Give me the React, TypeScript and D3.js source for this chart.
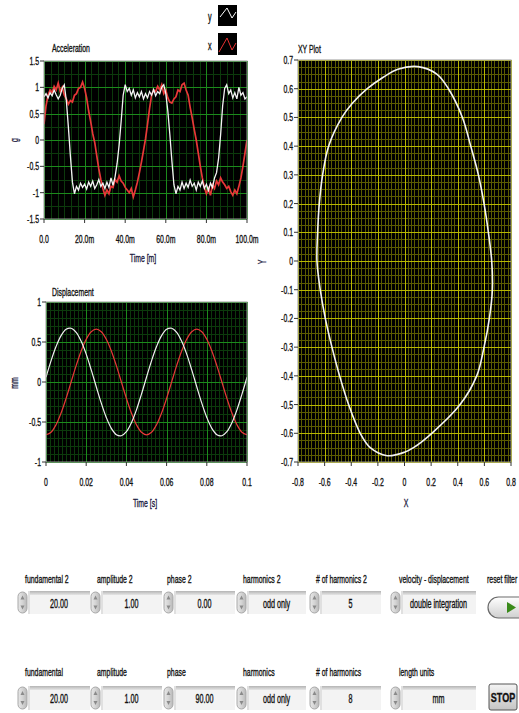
import React from "react";
import * as d3 from "d3";

// ---------- DATA ----------
// Acceleration (g), sampled every 1 ms from 0 to 100 ms
const ACC_Y = [
  0.82, 0.88, 0.8, 0.9, 0.84, 0.95, 0.86, 0.78, 0.85, 0.98,
  1.05, 0.75, 0.25, -0.3, -0.8, -1.02, -0.88, -0.95, -0.82, -0.9,
  -0.84, -0.93, -0.8, -0.88, -0.78, -0.92, -0.85, -0.75, -0.88, -0.82,
  -0.92, -0.8, -0.9, -0.72, -0.86, -0.7, -0.45, -0.1, 0.35, 0.85,
  1.05, 0.92, 0.98, 0.85, 0.95, 0.8, 0.9, 0.82, 0.92, 0.78,
  0.88, 0.8, 0.92, 0.85, 0.96, 0.84, 0.92, 0.88, 1.0, 1.05,
  0.88, 0.55, 0.1, -0.4, -0.85, -1.02, -0.88, -0.95, -0.8, -0.92,
  -0.82, -0.9, -0.76, -0.88, -0.82, -0.95, -0.8, -0.88, -0.78, -0.92,
  -0.84, -0.96, -0.82, -0.9, -0.72, -0.62, -0.35, 0.1, 0.65, 0.98,
  1.05, 0.88, 0.95, 0.8, 0.9, 0.78, 1.0, 0.85, 0.9, 0.78,
  0.82,
];
const ACC_X = [
  0.3, 0.65, 0.85, 0.95, 0.9, 1.02, 0.95, 1.08, 0.92, 1.0,
  0.85, 0.78, 0.68, 0.75, 0.72, 0.85, 0.88, 0.98, 1.0, 1.1,
  0.98, 0.8, 0.55, 0.35, 0.12, -0.05, -0.3, -0.55, -0.75, -0.92,
  -1.05, -0.95, -1.02, -0.88, -0.9, -0.75, -0.8, -0.68, -0.78, -0.82,
  -0.9, -0.95, -1.0, -0.92, -1.08, -0.95, -0.8, -0.62, -0.42, -0.2,
  0.02, 0.3, 0.6, 0.85, 0.95, 0.92, 1.02, 0.95, 1.05, 0.88,
  0.95, 0.8, 0.72, 0.7, 0.78, 0.82, 0.95, 0.92, 1.05, 1.08,
  0.95, 0.85, 0.62, 0.42, 0.2, 0.0, -0.25, -0.5, -0.72, -0.9,
  -1.02, -0.92, -1.05, -0.85, -0.92, -0.78, -0.85, -0.72, -0.8, -0.85,
  -0.92, -0.88, -0.98, -1.05, -0.95, -1.02, -0.88, -0.72, -0.5, -0.25,
  0.0,
];
const ACC_STEP_MS = 1;

// Displacement (mm), sampled every 2.5 ms from 0 to 0.1 s
const DISP_Y = [
  0.059, 0.264, 0.443, 0.579, 0.658, 0.672, 0.621, 0.509, 0.348, 0.152,
  -0.059, -0.264, -0.443, -0.579, -0.658, -0.672, -0.621, -0.509, -0.348, -0.152,
  0.059, 0.264, 0.443, 0.579, 0.658, 0.672, 0.621, 0.509, 0.348, 0.152,
  -0.059, -0.264, -0.443, -0.579, -0.658, -0.672, -0.621, -0.509, -0.348, -0.152,
  0.059,
];
const DISP_X = [
  -0.66, -0.628, -0.534, -0.388, -0.204, 0.0, 0.204, 0.388, 0.534, 0.628,
  0.66, 0.628, 0.534, 0.388, 0.204, 0.0, -0.204, -0.388, -0.534, -0.628,
  -0.66, -0.628, -0.534, -0.388, -0.204, 0.0, 0.204, 0.388, 0.534, 0.628,
  0.66, 0.628, 0.534, 0.388, 0.204, 0.0, -0.204, -0.388, -0.534, -0.628,
  -0.66,
];
const DISP_STEP_S = 0.0025;

// XY plot loop (clockwise from the top)
const XY_X = [
  0.1, 0.2425, 0.33, 0.435, 0.4975, 0.555, 0.5975, 0.63, 0.655, 0.66,
  0.6375, 0.5975, 0.5425, 0.4175, 0.205, 0.0675, 0.0, -0.13, -0.2575, -0.3325,
  -0.42, -0.4875, -0.545, -0.595, -0.633, -0.6575, -0.6525, -0.64, -0.615, -0.57,
  -0.47, -0.39, -0.28, -0.16, -0.05,
];
const XY_Y = [
  0.677, 0.651, 0.6, 0.5, 0.4, 0.3, 0.2, 0.1, 0.0, -0.1,
  -0.2, -0.3, -0.4, -0.5, -0.6, -0.65, -0.666, -0.678, -0.65, -0.6,
  -0.5, -0.4, -0.3, -0.2, -0.1, 0.0, 0.1, 0.2, 0.3, 0.4,
  0.5, 0.55, 0.6, 0.64, 0.668,
];

// Tick values and labels
const ACC_T_TICKS = [0, 20, 40, 60, 80, 100];
const ACC_T_LABELS = ["0.0", "20.0m", "40.0m", "60.0m", "80.0m", "100.0m"];
const ACC_G_TICKS = [1.5, 1, 0.5, 0, -0.5, -1, -1.5];
const ACC_G_LABELS = ["1.5", "1", "0.5", "0", "-0.5", "-1", "-1.5"];
const DISP_T_TICKS = [0, 0.02, 0.04, 0.06, 0.08, 0.1];
const DISP_T_LABELS = ["0", "0.02", "0.04", "0.06", "0.08", "0.1"];
const DISP_MM_TICKS = [1, 0.5, 0, -0.5, -1];
const DISP_MM_LABELS = ["1", "0.5", "0", "-0.5", "-1"];
const XY_X_TICKS = [-0.8, -0.6, -0.4, -0.2, 0, 0.2, 0.4, 0.6, 0.8];
const XY_X_LABELS = ["-0.8", "-0.6", "-0.4", "-0.2", "0", "0.2", "0.4", "0.6", "0.8"];
const XY_Y_TICKS = [0.7, 0.6, 0.5, 0.4, 0.3, 0.2, 0.1, 0, -0.1, -0.2, -0.3, -0.4, -0.5, -0.6, -0.7];
const XY_Y_LABELS = ["0.7", "0.6", "0.5", "0.4", "0.3", "0.2", "0.1", "0", "-0.1", "-0.2", "-0.3", "-0.4", "-0.5", "-0.6", "-0.7"];

// Controls
const ROW1_LABELS = ["fundamental 2", "amplitude 2", "phase 2", "harmonics 2", "# of harmonics 2", "velocity - displacement"];
const ROW1_VALUES = ["20.00", "1.00", "0.00", "odd only", "5", "double integration"];
const ROW2_LABELS = ["fundamental", "amplitude", "phase", "harmonics", "# of harmonics", "length units"];
const ROW2_VALUES = ["20.00", "1.00", "90.00", "odd only", "8", "mm"];

// ---------- LAYOUT ----------
const FONT = "'Liberation Sans', Arial, sans-serif";
const SX = 0.6;

const CTRL_COLS = [
  { a: 18, e: 90, lx: 25 },
  { a: 91, e: 162, lx: 97 },
  { a: 164, e: 235, lx: 167 },
  { a: 237, e: 306, lx: 243 },
  { a: 310, e: 381, lx: 316 },
  { a: 391, e: 476, lx: 399 },
];

function Txt(props: any) {
  const { x, y, children, anchor = "start", size = 11.5, rot = 0, sx = SX, fill = "#111", weight } = props;
  return (
    <text
      transform={`translate(${x},${y}) rotate(${rot}) scale(${sx},1)`}
      textAnchor={anchor}
      fontSize={size}
      fontFamily={FONT}
      fill={fill}
      stroke={fill}
      strokeWidth={0.35}
      fontWeight={weight}
    >
      {children}
    </text>
  );
}

function Grid(props: any) {
  const { x, y, xMajor, xSub, yMajor, ySub, major, minor } = props;
  const [x0, x1] = x.domain();
  const [y0, y1] = y.domain();
  const minorLines: any[] = [];
  const majorLines: any[] = [];
  const xs = xMajor / xSub;
  const nX = Math.round((x1 - x0) / xs);
  for (let i = 0; i <= nX; i++) {
    const v = x0 + i * xs;
    const px = Math.round(x(v)) + 0.5;
    const isMaj = i % xSub === 0;
    const el = <line key={"x" + i} x1={px} x2={px} y1={y.range()[0]} y2={y.range()[1]} />;
    (isMaj ? majorLines : minorLines).push(el);
  }
  const ys = yMajor / ySub;
  const nY = Math.round((y1 - y0) / ys);
  for (let i = 0; i <= nY; i++) {
    const v = y0 + i * ys;
    const py = Math.round(y(v)) + 0.5;
    const isMaj = i % ySub === 0;
    const el = <line key={"y" + i} x1={x.range()[0]} x2={x.range()[1]} y1={py} y2={py} />;
    (isMaj ? majorLines : minorLines).push(el);
  }
  return (
    <g>
      <g stroke={minor} strokeWidth={1}>{minorLines}</g>
      <g stroke={major} strokeWidth={1}>{majorLines}</g>
    </g>
  );
}

function AxisLeft(props: any) {
  const { y, x0, ticks, labels } = props;
  return (
    <g>
      {ticks.map((t: number, i: number) => (
        <g key={i}>
          <line x1={x0 - 4} x2={x0} y1={y(t)} y2={y(t)} stroke="#333" />
          <Txt x={x0 - 5} y={y(t) + 4} anchor="end">{labels[i]}</Txt>
        </g>
      ))}
    </g>
  );
}

function AxisBottom(props: any) {
  const { x, y0, ticks, labels, ly } = props;
  return (
    <g>
      {ticks.map((t: number, i: number) => (
        <g key={i}>
          <line x1={x(t)} x2={x(t)} y1={y0} y2={y0 + 4} stroke="#333" />
          <Txt x={x(t)} y={ly} anchor="middle">{labels[i]}</Txt>
        </g>
      ))}
    </g>
  );
}

function Numeric(props: any) {
  const { a, e, y0, y1, value } = props;
  const h = y1 - y0;
  const cx = a + 4.5;
  const cy = (y0 + y1) / 2;
  return (
    <g>
      <rect x={a} y={y0 + 1} width={9} height={h - 2} rx={4.5} fill="url(#btnGrad)" stroke="#a8a8a8" />
      <path d={`M${cx - 2},${cy - 3} L${cx},${cy - 7} L${cx + 2},${cy - 3} Z`} fill="#8a8a8a" />
      <path d={`M${cx - 2},${cy + 3} L${cx},${cy + 7} L${cx + 2},${cy + 3} Z`} fill="#8a8a8a" />
      <rect x={a + 10} y={y0} width={e - a - 10} height={h} fill="#f3f3f3" />
      <rect x={a + 10} y={y0} width={e - a - 10} height={4} fill="url(#bevel)" />
      <rect x={a + 10} y={y0} width={2} height={h} fill="#e0e0e0" />
      <Txt x={(a + 10 + e) / 2} y={cy + 5} anchor="middle" size={12}>{value}</Txt>
    </g>
  );
}

export default function App() {
  // Acceleration graph
  const xA = d3.scaleLinear().domain([0, 100]).range([44, 247]);
  const yA = d3.scaleLinear().domain([-1.5, 1.5]).range([219, 61]);
  // Displacement graph
  const xD = d3.scaleLinear().domain([0, 0.1]).range([46, 247]);
  const yD = d3.scaleLinear().domain([-1, 1]).range([462, 302]);
  // XY graph
  const xX = d3.scaleLinear().domain([-0.8, 0.8]).range([298, 511]);
  const yX = d3.scaleLinear().domain([-0.7, 0.7]).range([462, 60]);

  const accLine = d3
    .line<number>()
    .x((_, i) => xA(i * ACC_STEP_MS))
    .y((d) => yA(d));
  const dispLine = d3
    .line<number>()
    .x((_, i) => xD(i * DISP_STEP_S))
    .y((d) => yD(d))
    .curve(d3.curveCatmullRom);
  const xyLine = d3
    .line<number>()
    .x((d) => xX(d))
    .y((_, i) => yX(XY_Y[i]))
    .curve(d3.curveCatmullRomClosed.alpha(0.5));

  return (
    <svg width={519} height={713} style={{ position: "absolute", left: 0, top: 0, background: "#fff" }}>
      <defs>
        <linearGradient id="btnGrad" x1="0" x2="1" y1="0" y2="0">
          <stop offset="0" stopColor="#e8e8e8" />
          <stop offset="0.5" stopColor="#d4d4d4" />
          <stop offset="1" stopColor="#b8b8b8" />
        </linearGradient>
        <linearGradient id="bevel" x1="0" x2="0" y1="0" y2="1">
          <stop offset="0" stopColor="#b4b4b4" />
          <stop offset="1" stopColor="#e6e6e6" />
        </linearGradient>
        <linearGradient id="oval" x1="0" x2="0" y1="0" y2="1">
          <stop offset="0" stopColor="#ffffff" />
          <stop offset="1" stopColor="#cfcfcf" />
        </linearGradient>
        <linearGradient id="stop" x1="0" x2="0" y1="0" y2="1">
          <stop offset="0" stopColor="#f4f4f4" />
          <stop offset="1" stopColor="#c4c4c4" />
        </linearGradient>
        <clipPath id="clipA"><rect x={44} y={61} width={203} height={158} /></clipPath>
        <clipPath id="clipD"><rect x={46} y={302} width={201} height={160} /></clipPath>
        <clipPath id="clipX"><rect x={298} y={60} width={213} height={402} /></clipPath>
      </defs>

      {/* Legend */}
      <Txt x={208} y={21} size={12}>y</Txt>
      <rect x={218} y={5} width={19} height={21} fill="#000" />
      <polyline points="220,17 227,8 232,18 236,12" fill="none" stroke="#fff" strokeWidth={1} />
      <Txt x={208} y={50} size={12}>x</Txt>
      <rect x={218} y={33} width={19} height={22} fill="#000" />
      <polyline points="219,52 227,38 232,50 236,43" fill="none" stroke="#e83030" strokeWidth={1} />

      {/* Acceleration */}
      <Txt x={52} y={52}>Acceleration</Txt>
      <rect x={44} y={61} width={203} height={158} fill="#000" />
      <Grid x={xA} y={yA} xMajor={20} xSub={6} yMajor={0.5} ySub={2} major="#1c8a1c" minor="#0c3a0c" />
      <g clipPath="url(#clipA)">
        <path d={accLine(ACC_X) || ""} fill="none" stroke="#e83838" strokeWidth={1.7} />
        <path d={accLine(ACC_Y) || ""} fill="none" stroke="#f4f4f4" strokeWidth={1.3} />
      </g>
      <rect x={44} y={61} width={203} height={158} fill="none" stroke="#9a9a9a" />
      <AxisLeft y={yA} x0={44} ticks={ACC_G_TICKS} labels={ACC_G_LABELS} />
      <AxisBottom x={xA} y0={219} ticks={ACC_T_TICKS} labels={ACC_T_LABELS} ly={243} />
      <Txt x={143} y={262} anchor="middle" fill="#1a1a40">Time [m]</Txt>
      <Txt x={18} y={140} anchor="middle" rot={-90} fill="#1a1a40">g</Txt>

      {/* Displacement */}
      <Txt x={52} y={296}>Displacement</Txt>
      <rect x={46} y={302} width={201} height={160} fill="#000" />
      <Grid x={xD} y={yD} xMajor={0.02} xSub={10} yMajor={0.5} ySub={5} major="#1c8a1c" minor="#0c3a0c" />
      <g clipPath="url(#clipD)">
        <path d={dispLine(DISP_X) || ""} fill="none" stroke="#e83838" strokeWidth={1.2} />
        <path d={dispLine(DISP_Y) || ""} fill="none" stroke="#f0f0f0" strokeWidth={1.2} />
      </g>
      <rect x={46} y={302} width={201} height={160} fill="none" stroke="#9a9a9a" />
      <AxisLeft y={yD} x0={46} ticks={DISP_MM_TICKS} labels={DISP_MM_LABELS} />
      <AxisBottom x={xD} y0={462} ticks={DISP_T_TICKS} labels={DISP_T_LABELS} ly={486} />
      <Txt x={145} y={507} anchor="middle" fill="#1a1a40">Time [s]</Txt>
      <Txt x={18} y={383} anchor="middle" rot={-90} fill="#1a1a40">mm</Txt>

      {/* XY Plot */}
      <Txt x={298} y={53}>XY Plot</Txt>
      <rect x={298} y={60} width={213} height={402} fill="#000" />
      <Grid x={xX} y={yX} xMajor={0.2} xSub={8} yMajor={0.1} ySub={4} major="#b8b800" minor="#5c5c00" />
      <g clipPath="url(#clipX)">
        <path d={xyLine(XY_X) || ""} fill="none" stroke="#f4f4f4" strokeWidth={1.6} />
      </g>
      <rect x={298} y={60} width={213} height={402} fill="none" stroke="#9a9a9a" />
      <AxisLeft y={yX} x0={298} ticks={XY_Y_TICKS} labels={XY_Y_LABELS} />
      <AxisBottom x={xX} y0={462} ticks={XY_X_TICKS} labels={XY_X_LABELS} ly={486} />
      <Txt x={406} y={507} anchor="middle" fill="#1a1a40">X</Txt>
      <Txt x={266} y={262} anchor="middle" rot={-90} fill="#1a1a40">Y</Txt>

      {/* Controls row 1 */}
      {ROW1_LABELS.map((l, i) => (
        <Txt key={"l1" + i} x={CTRL_COLS[i].lx} y={583}>{l}</Txt>
      ))}
      {ROW1_VALUES.map((v, i) => (
        <Numeric key={"v1" + i} a={CTRL_COLS[i].a} e={CTRL_COLS[i].e} y0={591} y1={614} value={v} />
      ))}
      <Txt x={487} y={583}>reset filter</Txt>
      <rect x={488} y={597} width={44} height={21} rx={10.5} fill="url(#oval)" stroke="#6a6a6a" strokeWidth={1.2} />
      <path d="M507,602 L516,607.5 L507,613 Z" fill="#3a8a1a" />

      {/* Controls row 2 */}
      {ROW2_LABELS.map((l, i) => (
        <Txt key={"l2" + i} x={CTRL_COLS[i].lx} y={676}>{l}</Txt>
      ))}
      {ROW2_VALUES.map((v, i) => (
        <Numeric key={"v2" + i} a={CTRL_COLS[i].a} e={CTRL_COLS[i].e} y0={686} y1={710} value={v} />
      ))}
      <rect x={489} y={684} width={28} height={26} rx={2} fill="url(#stop)" stroke="#555" />
      <Txt x={503} y={702} anchor="middle" weight="bold" size={12} sx={0.75}>STOP</Txt>
    </svg>
  );
}
